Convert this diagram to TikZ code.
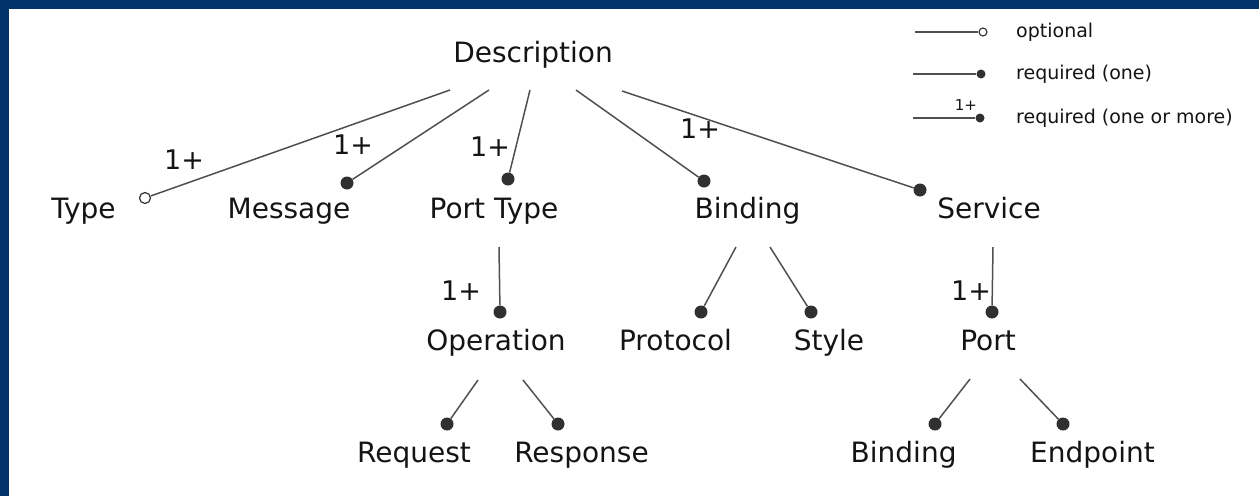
\documentclass[tikz,border=0pt]{standalone}
\usepackage{fontspec}
\setmainfont{DejaVu Sans}
\definecolor{frame}{RGB}{0,52,104}
\definecolor{txt}{RGB}{20,20,20}
\definecolor{linec}{RGB}{80,80,80}
\definecolor{dotc}{RGB}{48,48,48}
\begin{document}
\begin{tikzpicture}[x=1pt,y=-1pt,
  lbl/.style={font=\fontsize{28}{30}\selectfont, text=txt, inner sep=0pt, anchor=base},
  mult/.style={font=\fontsize{27}{30}\selectfont, text=txt, inner sep=0pt, anchor=base},
  leg/.style={font=\fontsize{19}{22}\selectfont, text=txt, inner sep=0pt, anchor=base west},
  legmult/.style={font=\fontsize{15}{17}\selectfont, text=txt, inner sep=0pt, anchor=base},
  dot/.style={circle, fill=dotc, inner sep=0pt, minimum size=13pt},
  odot/.style={circle, draw=dotc, fill=white, line width=1.2pt, inner sep=0pt, minimum size=11pt},
  sdot/.style={circle, fill=dotc, inner sep=0pt, minimum size=9pt},
  sodot/.style={circle, draw=dotc, fill=white, line width=1.1pt, inner sep=0pt, minimum size=8pt},
  conn/.style={draw=linec, line width=1.5pt},
]
\useasboundingbox (0,0) rectangle (1259,496);
\fill[white] (0,0) rectangle (1259,496);
\fill[frame] (0,0) rectangle (1259,9);
\fill[frame] (0,0) rectangle (8.7,496);

% texts
\node[lbl] (desc) at (533,62) {Description};
\node[lbl] (type) at (83.5,218) {Type};
\node[lbl] (msg) at (289,218) {Message};
\node[lbl] (ptype) at (494,218) {Port Type};
\node[lbl] (bind) at (747.5,218) {Binding};
\node[lbl] (serv) at (989,218) {Service};
\node[lbl] (oper) at (496,350) {Operation};
\node[lbl] (prot) at (675.5,350) {Protocol};
\node[lbl] (style) at (829,350) {Style};
\node[lbl] (port) at (988,350) {Port};
\node[lbl] (req) at (414,462) {Request};
\node[lbl] (resp) at (581.5,462) {Response};
\node[lbl] (bind2) at (903.6,462) {Binding};
\node[lbl] (endp) at (1092.5,462) {Endpoint};

% start points
\coordinate (sType) at (450,90);
\coordinate (sMsg) at (489,90);
\coordinate (sPType) at (530,90);
\coordinate (sBind) at (576,90);
\coordinate (sServ) at (622,91);
\coordinate (sOper) at (499,247);
\coordinate (sProt) at (736,247);
\coordinate (sStyle) at (770,247);
\coordinate (sPort) at (993,247);
\coordinate (sReq) at (478,380);
\coordinate (sResp) at (523,380);
\coordinate (sBind2) at (970,379);
\coordinate (sEndp) at (1020,379);

% dots
\node[odot] (dType) at (145,198) {};
\node[dot] (dMsg) at (347,183) {};
\node[dot] (dPType) at (508,179) {};
\node[dot] (dBind) at (704,181) {};
\node[dot] (dServ) at (920,190) {};
\node[dot] (dOper) at (500,312) {};
\node[dot] (dProt) at (701,312) {};
\node[dot] (dStyle) at (811,312) {};
\node[dot] (dPort) at (992,312) {};
\node[dot] (dReq) at (447,424) {};
\node[dot] (dResp) at (558,424) {};
\node[dot] (dBind2) at (935,424) {};
\node[dot] (dEndp) at (1063,424) {};

% connectors
\draw[conn] (sType) -- (dType);
\draw[conn] (sMsg) -- (dMsg);
\draw[conn] (sPType) -- (dPType);
\draw[conn] (sBind) -- (dBind);
\draw[conn] (sServ) -- (dServ);
\draw[conn] (sOper) -- (dOper);
\draw[conn] (sProt) -- (dProt);
\draw[conn] (sStyle) -- (dStyle);
\draw[conn] (sPort) -- (dPort);
\draw[conn] (sReq) -- (dReq);
\draw[conn] (sResp) -- (dResp);
\draw[conn] (sBind2) -- (dBind2);
\draw[conn] (sEndp) -- (dEndp);

% multiplicities
\node[mult] (m1) at (184,169) {1+};
\node[mult] (m2) at (353,154) {1+};
\node[mult] (m3) at (490,156) {1+};
\node[mult] (m4) at (700,138) {1+};
\node[mult] (m5) at (461,300) {1+};
\node[mult] (m6) at (971,300) {1+};

% legend
\coordinate (l1s) at (915,32);
\node[sodot] (l1d) at (983,32) {};
\draw[conn, line width=1.3pt] (l1s) -- (l1d);
\node[leg] (l1t) at (1016,37) {optional};
\coordinate (l2s) at (913,74);
\node[sdot] (l2d) at (981,74) {};
\draw[conn, line width=1.3pt] (l2s) -- (l2d);
\node[leg] (l2t) at (1016,79) {required (one)};
\coordinate (l3s) at (913,118);
\node[sdot] (l3d) at (980,118) {};
\draw[conn, line width=1.3pt] (l3s) -- (l3d);
\node[legmult] (l3m) at (966,110) {1+};
\node[leg] (l3t) at (1016,123) {required (one or more)};
\end{tikzpicture}
\end{document}
